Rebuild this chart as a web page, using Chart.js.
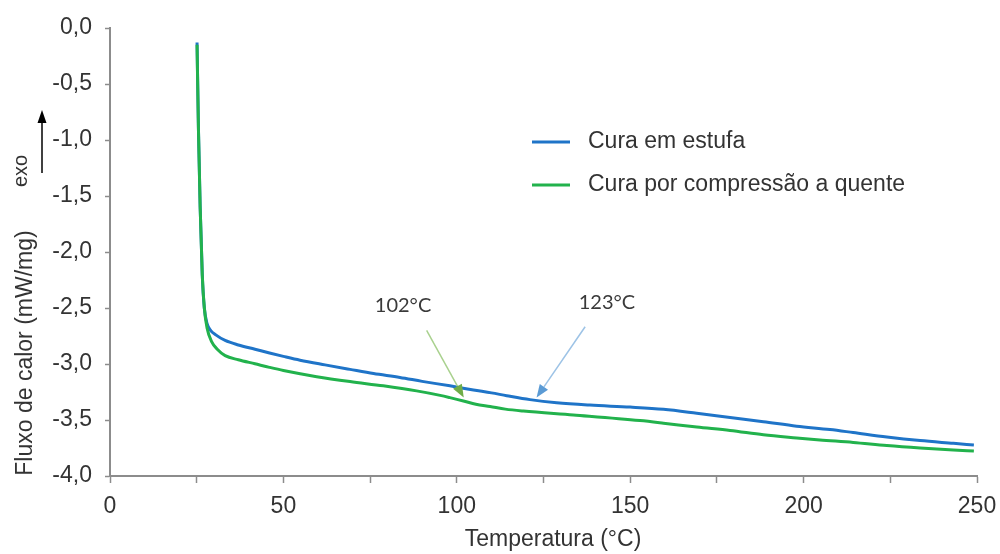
<!DOCTYPE html>
<html>
<head>
<meta charset="utf-8">
<script src="https://cdn.jsdelivr.net/npm/chart.js@4.4.1/dist/chart.umd.min.js"></script>
<style>
  html, body { margin: 0; padding: 0; background: #ffffff; }
  #wrap { width: 1000px; height: 554px; }
</style>
</head>
<body>
<div id="wrap"><canvas id="dsc" width="1000" height="554"></canvas></div>
<script>
// DSC curves: heat flow (mW/mg) against temperature (°C)
const tempEstufa = [25.1, 25.5, 26.0, 26.6, 27.2, 28.0, 29.0, 30.5, 33.2, 37, 41.8, 46, 50, 54.8, 62, 69.2, 76, 83.6, 90, 98, 104.8, 110, 114.4, 121.1, 128.8, 138.4, 150, 159.6, 169.2, 178.8, 188.4, 198, 207.6, 214.3, 224, 233.6, 243.2, 249.1];
const fluxoEstufa = [-0.13, -0.9, -1.6, -2.2, -2.5, -2.64, -2.70, -2.74, -2.79, -2.83, -2.868, -2.902, -2.932, -2.966, -3.008, -3.048, -3.085, -3.12, -3.155, -3.195, -3.232, -3.258, -3.283, -3.318, -3.346, -3.367, -3.385, -3.405, -3.44, -3.478, -3.515, -3.555, -3.585, -3.612, -3.652, -3.684, -3.708, -3.723];

const tempCompressao = [25.1, 25.5, 26.0, 26.6, 27.2, 28.0, 29.3, 31, 33.2, 37, 41.8, 46, 50, 59.6, 69.2, 78.8, 88.4, 95.2, 98, 101.9, 105.5, 109.6, 114, 119.2, 133.6, 152.8, 159.6, 169.2, 178.8, 188.4, 198, 204.7, 214.3, 224, 233.6, 243.2, 249.1];
const fluxoCompressao = [-0.15, -0.9, -1.6, -2.2, -2.5, -2.68, -2.80, -2.87, -2.925, -2.962, -2.998, -3.03, -3.058, -3.113, -3.157, -3.195, -3.24, -3.28, -3.30, -3.33, -3.36, -3.38, -3.403, -3.42, -3.455, -3.505, -3.528, -3.563, -3.593, -3.632, -3.66, -3.678, -3.70, -3.728, -3.75, -3.768, -3.777];

const seriesNames = ['Cura em estufa', 'Cura por compressão a quente'];
const seriesColors = ['#1f74c8', '#22b24c'];

// transition temperatures marked with arrows
const transitionTemps = [102, 123];

const yTickLabel = v => (Math.abs(v) < 1e-9 ? 0 : v).toFixed(1).replace('.', ',');

function toPoints(xs, ys) { return xs.map((x, i) => ({ x: x, y: ys[i] })); }

const TEXT = '#333333';
const AXIS = '#8c8c8c';
const FONT = '"Liberation Sans", Arial, sans-serif';

// arrows and their labels for the transitions
const transitionMarks = [
  { temp: transitionTemps[0], tipY: -3.30, from: [91.3, -2.70], label: [84.5, -2.48], line: '#a9d18e', head: '#70ad47' },
  { temp: transitionTemps[1], tipY: -3.30, from: [137, -2.667], label: [143.3, -2.455], line: '#9dc3e6', head: '#5b9bd5' }
];

function arrow(ctx, x1, y1, x2, y2, lineColor, headColor, headLen, headW) {
  const a = Math.atan2(y2 - y1, x2 - x1);
  const bx = x2 - headLen * Math.cos(a), by = y2 - headLen * Math.sin(a);
  ctx.strokeStyle = lineColor;
  ctx.lineWidth = 1.5;
  ctx.beginPath(); ctx.moveTo(x1, y1); ctx.lineTo(bx, by); ctx.stroke();
  ctx.fillStyle = headColor;
  ctx.beginPath();
  ctx.moveTo(x2, y2);
  ctx.lineTo(bx + headW / 2 * Math.sin(a), by - headW / 2 * Math.cos(a));
  ctx.lineTo(bx - headW / 2 * Math.sin(a), by + headW / 2 * Math.cos(a));
  ctx.closePath(); ctx.fill();
}

const decorations = {
  id: 'decorations',
  afterDatasetsDraw(chart) {
    const ctx = chart.ctx;
    const xs = chart.scales.x, ys = chart.scales.y;
    ctx.save();

    // transition arrows + labels
    transitionMarks.forEach(m => {
      const x1 = xs.getPixelForValue(m.from[0]), y1 = ys.getPixelForValue(m.from[1]);
      const x2 = xs.getPixelForValue(m.temp), y2 = ys.getPixelForValue(m.tipY);
      arrow(ctx, x1, y1, x2, y2, m.line, m.head, 13, 10);
      ctx.fillStyle = '#3a3a3a';
      ctx.font = '20px Lato, "Open Sans", sans-serif';
      ctx.textAlign = 'center';
      ctx.textBaseline = 'middle';
      ctx.fillText(m.temp + '°C', xs.getPixelForValue(m.label[0]), ys.getPixelForValue(m.label[1]));
    });

    // legend
    ctx.font = '23px ' + FONT;
    ctx.textAlign = 'left';
    ctx.textBaseline = 'middle';
    chart.data.datasets.forEach((ds, i) => {
      const y = 142 + i * 43;
      ctx.strokeStyle = ds.borderColor;
      ctx.lineWidth = 3;
      ctx.beginPath(); ctx.moveTo(532, y); ctx.lineTo(570, y); ctx.stroke();
      ctx.fillStyle = TEXT;
      ctx.fillText(ds.label, 588, y);
    });

    // axis titles
    ctx.fillStyle = TEXT;
    ctx.font = '23px ' + FONT;
    ctx.textAlign = 'center';
    ctx.textBaseline = 'middle';
    ctx.fillText('Temperatura (°C)', 553, 540);

    ctx.save();
    ctx.translate(26, 353);
    ctx.rotate(-Math.PI / 2);
    ctx.fillText('Fluxo de calor (mW/mg)', 0, 0);
    ctx.restore();

    // exothermic direction marker
    ctx.save();
    ctx.translate(21, 171);
    ctx.rotate(-Math.PI / 2);
    ctx.font = '20px ' + FONT;
    ctx.fillText('exo', 0, 0);
    ctx.restore();
    arrow(ctx, 42, 173, 42, 110, '#000000', '#000000', 13, 9);

    ctx.restore();
  }
};

new Chart(document.getElementById('dsc'), {
  type: 'line',
  data: {
    datasets: [
      {
        label: seriesNames[0],
        data: toPoints(tempEstufa, fluxoEstufa),
        borderColor: seriesColors[0],
        backgroundColor: seriesColors[0],
        borderWidth: 3,
        pointRadius: 0,
        cubicInterpolationMode: 'monotone',
        order: 1
      },
      {
        label: seriesNames[1],
        data: toPoints(tempCompressao, fluxoCompressao),
        borderColor: seriesColors[1],
        backgroundColor: seriesColors[1],
        borderWidth: 3,
        pointRadius: 0,
        cubicInterpolationMode: 'monotone',
        order: 0
      }
    ]
  },
  options: {
    responsive: false,
    animation: false,
    devicePixelRatio: 1,
    layout: { padding: { top: 28, right: 23, bottom: 0, left: 0 } },
    plugins: {
      legend: { display: false },
      tooltip: { enabled: false }
    },
    scales: {
      x: {
        type: 'linear',
        min: 0,
        max: 250,
        afterFit(s) { s.height = 78; s.paddingRight = 0; s.paddingLeft = 0; },
        border: { color: AXIS, width: 2 },
        grid: { drawOnChartArea: false, drawTicks: true, tickLength: 7, color: AXIS, tickWidth: 1.5 },
        ticks: {
          stepSize: 25,
          padding: 10,
          color: TEXT,
          font: { family: FONT, size: 23 },
          maxRotation: 0,
          autoSkip: false,
          callback: v => (v % 50 === 0 ? String(v) : '')
        }
      },
      y: {
        type: 'linear',
        min: -4,
        max: 0,
        afterFit(s) { s.width = 110; },
        border: { color: AXIS, width: 2 },
        grid: { drawOnChartArea: false, drawTicks: true, tickLength: 5, color: AXIS, tickWidth: 1.5 },
        ticks: {
          stepSize: 0.5,
          padding: 13,
          color: TEXT,
          font: { family: FONT, size: 23 },
          callback: v => yTickLabel(v)
        }
      }
    }
  },
  plugins: [decorations]
});
</script>
</body>
</html>
